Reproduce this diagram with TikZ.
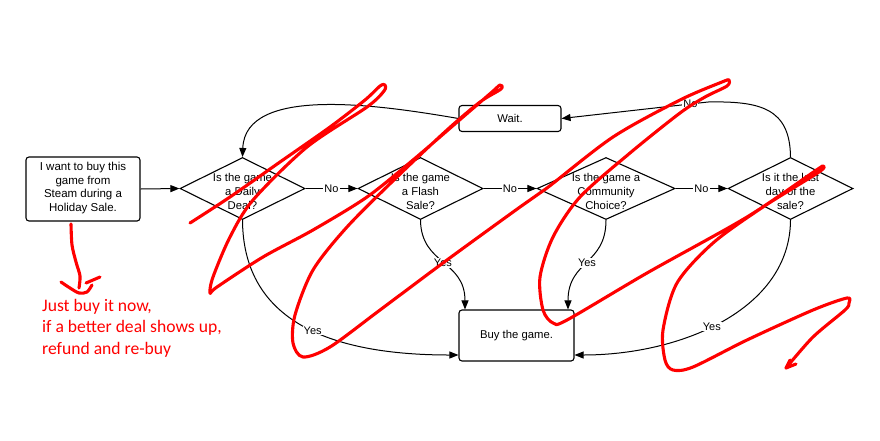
\documentclass[tikz,border=0pt]{standalone}
\usepackage{fontspec}
\setmainfont{Liberation Sans}
\newfontfamily\notefont{Carlito}
\usetikzlibrary{shapes.geometric,arrows.meta,calc}
\begin{document}
\begin{tikzpicture}[x=1pt,y=-1pt,
  every node/.style={font=\fontsize{11.3}{14}\selectfont},
  box/.style={draw, rounded corners=3pt, line width=1.1pt, inner sep=0pt},
  dia/.style={draw, diamond, inner sep=0pt, line width=1.1pt, minimum height=62pt},
  qtext/.style={align=center, inner sep=0pt},
  conn/.style={line width=1pt, -{Triangle[length=9pt,width=7pt]}},
  lbl/.style={fill=white, inner sep=1pt, font=\fontsize{11}{12}\selectfont},
  scrib/.style={red, line width=3.1pt, line cap=round, line join=round},
  note/.style={text=red, align=left, inner sep=0pt, font=\notefont\fontsize{17.6}{21.5}\selectfont},
]
\fill[white] (0,0) rectangle (880,440);
\path[use as bounding box] (0,0) rectangle (880,440);

% nodes
\node[box, minimum width=114pt, minimum height=64pt] (start) at (83,189) {};
\node[qtext, font=\fontsize{11.5}{13.5}\selectfont] (starttxt) at (83,188) {I want to buy this\\game from\\Steam during a\\Holiday Sale.};

\node[dia, minimum width=125pt] (d1) at (242.5,188.5) {};
\node[qtext] (t1) at (242.5,191) {Is the game\\a Daily\\Deal?};
\node[dia, minimum width=125pt] (d2) at (420.5,188.5) {};
\node[qtext] (t2) at (420.5,191) {Is the game\\a Flash\\Sale?};
\node[dia, minimum width=138pt] (d3) at (606,188.5) {};
\node[qtext] (t3) at (606,191) {Is the game a\\Community\\Choice?};
\node[dia, minimum width=125pt] (d4) at (790.5,188.5) {};
\node[qtext] (t4) at (790.5,191) {Is it the last\\day of the\\sale?};

\node[box, minimum width=102pt, minimum height=26pt] (wait) at (510,118.5) {Wait.};
\node[box, minimum width=115pt, minimum height=51pt] (buy) at (516.5,335.5) {Buy the game.};

% connectors
\draw[conn] (start.east) -- (d1.west);
\draw[conn] (d1.east) -- node[lbl]{No} (d2.west);
\draw[conn] (d2.east) -- node[lbl]{No} (d3.west);
\draw[conn] (d3.east) -- node[lbl]{No} (d4.west);
\coordinate (c4) at (708,102);
\draw[conn] (d4.north) .. controls (790,108) and (760,101) .. (c4) -- (wait.east) node[lbl,pos=0.12]{No};
\draw[conn] (wait.west) .. controls (380,105) and (245,85) .. (d1.north);
\draw[conn] (d1.south) .. controls (243,315) and (320,355) .. ($(buy.west)+(0,19.5)$) node[lbl,pos=0.56]{Yes};
\draw[conn] (d2.south) .. controls (421,265) and (465,260) .. ($(buy.north)+(-51.5,0)$) node[lbl,pos=0.5]{Yes};
\draw[conn] (d3.south) .. controls (606,265) and (568,260) .. ($(buy.north)+(51.5,0)$) node[lbl,pos=0.5]{Yes};
\draw[conn] (d4.south) .. controls (790,310) and (680,355) .. ($(buy.east)+(0,19.5)$) node[lbl,pos=0.54]{Yes};

% red annotation
\draw[scrib] plot[smooth, tension=0.5] coordinates {(71,224) (72,245) (76,262) (80,276) (79,288)};
\draw[scrib] plot[smooth, tension=0.5] coordinates {(61,282) (70,288) (79,293) (87,292) (92,285)};
\draw[scrib] (86,283) -- (100,277);
\node[note, anchor=north west] (note) at (42,299) {Just buy it now,\\if a better deal shows up,\\refund and re-buy};

% red scribble over the chart
\draw[scrib] plot[smooth, tension=0.5] coordinates {
 (190,223) (230,197) (280,162) (330,127) (365,100) (380,86) (385,85) (384,91) (367,107)
 (307,147) (253,200) (230,237) (213,277) (210,293)
 (217,287) (263,257) (313,230) (367,197) (413,160) (463,117) (492,92) (500,85) (501,89)
 (480,102) (447,130) (397,177) (347,227) (313,270) (295,315) (293,343) (303,357)
 (330,347) (380,310) (447,260) (520,207) (547,188) (613,137) (680,100) (722,82) (729,80) (727,86)
 (705,97) (680,113) (630,153) (580,197) (553,237) (540,277) (543,310) (553,323)
 (567,320) (647,273) (747,217) (815,171) (823,166) (819,172)
 (763,207) (713,243) (677,283) (663,330) (665,360) (673,370)
 (693,367) (747,340) (813,310) (847,298) (849,303) (845,310) (813,337) (786,368)};
\draw[scrib] (790,360) -- (786,368) -- (796,364);
\end{tikzpicture}
\end{document}
